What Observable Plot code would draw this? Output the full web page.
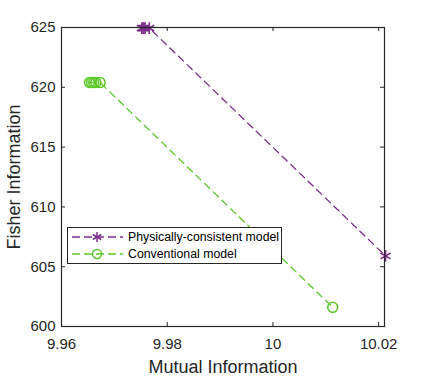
<!DOCTYPE html>
<html><head><meta charset="utf-8">
<script src="https://cdn.jsdelivr.net/npm/d3@7"></script>
<script src="https://cdn.jsdelivr.net/npm/@observablehq/plot@0.6"></script>
<style>
body{margin:0;background:#fff;}
#wrap{position:relative;width:425px;height:379px;font-family:"Liberation Sans",Arial,sans-serif;}
#legend{position:absolute;left:67px;top:227px;width:213px;height:35px;border:1px solid #262626;background:#fff;font-size:12.3px;color:#000;}
#legend .row{position:absolute;left:0;height:16px;display:flex;align-items:center;}
#legend svg{display:block;}
#legend span{margin-left:4px;white-space:nowrap;}
</style></head><body><div id="wrap"></div>
<script>
const xTicks = [9.96, 9.98, 10, 10.02];
const yTicks = [600, 605, 610, 615, 620, 625];
const physX = [9.9752, 9.9754, 9.9756, 9.9758, 9.9766, 10.0213];
const physY = [624.95, 624.95, 624.95, 624.95, 624.95, 605.9];
const convX = [9.9653, 9.9657, 9.9661, 9.9665, 9.9673, 10.0113];
const convY = [620.4, 620.4, 620.4, 620.4, 620.4, 601.6];
const seriesNames = ["Physically-consistent model", "Conventional model"];
const seriesColors = ["#7E2F8E", "#5CC92A"];
const seriesSymbols = ["asterisk", "circle"];

const phys = physX.map((x, i) => ({x, y: physY[i]}));
const conv = convX.map((x, i) => ({x, y: convY[i]}));

const W = 425, H = 379, mt = 27, mb = 53, ml = 61, mr = 41;
const ph = H - mt - mb, pw = W - ml - mr;
const axc = "#262626";

const chart = Plot.plot({
  width: W, height: H,
  marginTop: mt, marginBottom: mb, marginLeft: ml, marginRight: mr,
  style: {fontFamily: '"Liberation Sans", Arial, sans-serif', background: "#fff", overflow: "visible"},
  x: {domain: [9.96, 10.0211]},
  y: {domain: [600, 625]},
  marks: [
    Plot.tickX(xTicks, {x: d => d, insetTop: ph - 4, stroke: axc}),
    Plot.tickX(xTicks, {x: d => d, insetBottom: ph - 4, stroke: axc}),
    Plot.tickY(yTicks, {y: d => d, insetRight: pw - 4, stroke: axc}),
    Plot.tickY(yTicks, {y: d => d, insetLeft: pw - 4, stroke: axc}),
    Plot.axisX(xTicks, {tickSize: 0, tickPadding: 12, fontSize: 15, fill: axc, label: null, tickFormat: d => String(d)}),
    Plot.axisY(yTicks, {tickSize: 0, tickPadding: 6, fontSize: 15, fill: axc, label: null, tickFormat: d => String(d)}),
    Plot.line(phys, {x: "x", y: "y", stroke: seriesColors[0], strokeWidth: 1.3, strokeDasharray: "7,5"}),
    Plot.dot(phys, {x: "x", y: "y", symbol: seriesSymbols[0], stroke: seriesColors[0], r: 5.5, strokeWidth: 1.6}),
    Plot.line(conv, {x: "x", y: "y", stroke: seriesColors[1], strokeWidth: 1.3, strokeDasharray: "7,5"}),
    Plot.dot(conv, {x: "x", y: "y", symbol: seriesSymbols[1], stroke: seriesColors[1], r: 5, strokeWidth: 1.5}),
    Plot.frame({stroke: axc, strokeWidth: 1.2}),
    Plot.text(["Mutual Information"], {frameAnchor: "bottom", dy: 46, fontSize: 18, fill: axc}),
    Plot.text(["Fisher Information"], {frameAnchor: "left", textAnchor: "middle", dx: -47, rotate: -90, fontSize: 18, fill: axc})
  ]
});
const wrap = document.getElementById("wrap");
wrap.appendChild(chart);

const legend = document.createElement("div");
legend.id = "legend";
seriesNames.forEach((name, i) => {
  const row = document.createElement("div");
  row.className = "row";
  row.style.top = (1 + i * 17) + "px";
  const c = seriesColors[i];
  const sym = seriesSymbols[i] === "circle"
    ? `<circle cx="29" cy="8" r="4.5" fill="none" stroke="${c}" stroke-width="1.5"/>`
    : `<g stroke="${c}" stroke-width="1.5"><line x1="29" y1="3" x2="29" y2="13"/><line x1="24.7" y1="5.5" x2="33.3" y2="10.5"/><line x1="24.7" y1="10.5" x2="33.3" y2="5.5"/></g>`;
  row.innerHTML = `<svg width="56" height="16"><line x1="4" y1="8" x2="55" y2="8" stroke="${c}" stroke-width="1.3" stroke-dasharray="8,4"/>${sym}</svg><span>${name}</span>`;
  legend.appendChild(row);
});
wrap.appendChild(legend);
</script>
</body></html>
